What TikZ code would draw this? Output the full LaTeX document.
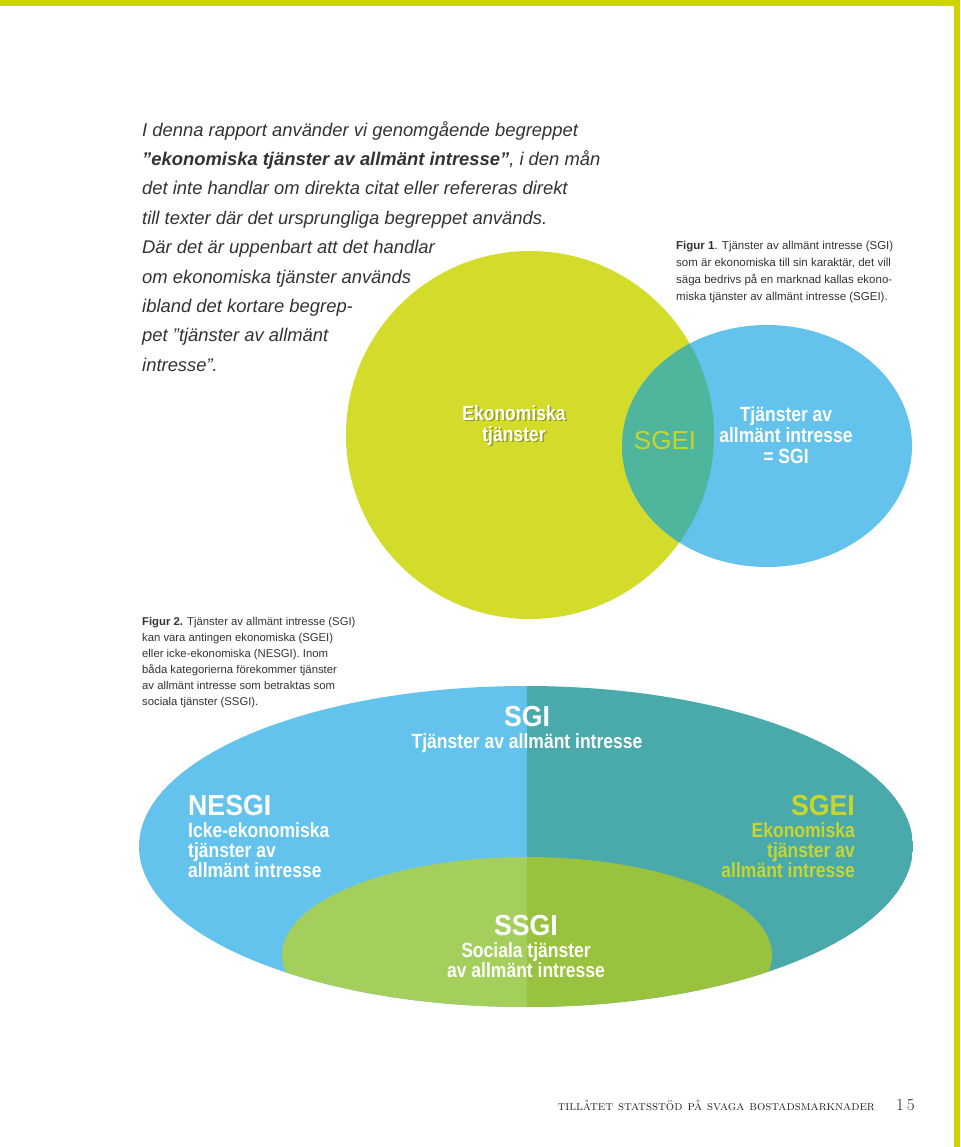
\documentclass[tikz,border=0pt]{standalone}
\usepackage{fontspec}
\newfontfamily\introfont{Liberation Sans}
\newfontfamily\labelfont[FakeStretch=0.85]{Liberation Sans}
\newfontfamily\titlefont[FakeStretch=0.92]{Liberation Sans}
\usetikzlibrary{positioning}

\definecolor{pagegreen}{RGB}{205, 212, 0}
\definecolor{vennyellow}{RGB}{211, 220, 42}
\definecolor{vennblue}{RGB}{99, 195, 236}
\definecolor{lensteal}{RGB}{79, 181, 156}
\definecolor{sgeiteal}{RGB}{74, 170, 171}
\definecolor{ssgilight}{RGB}{164, 207, 92}
\definecolor{ssgidark}{RGB}{153, 195, 62}
\definecolor{sgeitext}{RGB}{200, 214, 44}

\tikzset{
  introtext/.style={anchor=north west, inner sep=0, align=left, text=black!80,
    font=\introfont\fontsize{18.4}{29.4}\selectfont\itshape},
  captiontext/.style={anchor=north west, inner sep=0, align=left, text=black!80,
    font=\introfont\fontsize{11.5}{17}\selectfont},
  venntext/.style={inner sep=0, align=center, text=white,
    font=\labelfont\bfseries\fontsize{20.6}{21}\selectfont},
  titletext/.style={inner sep=0, text=white,
    font=\titlefont\bfseries\fontsize{29}{29}\selectfont},
  subtext/.style={inner sep=0, text=white,
    font=\labelfont\bfseries\fontsize{20.6}{19.7}\selectfont},
}

\begin{document}
\begin{tikzpicture}[x=1pt, y=-1pt]
  \useasboundingbox (0,0) rectangle (960,1147);
  \fill[white] (0,0) rectangle (960,1147);
  % page frame
  \fill[pagegreen] (0,0) rectangle (960,6);
  \fill[pagegreen] (954,0) rectangle (960,1147);

  % Figur 1: Venn
  \fill[vennyellow] (530,435) circle [radius=184];
  \fill[vennblue] (767,446) ellipse [x radius=145, y radius=121];
  \begin{scope}
    \clip (530,435) circle [radius=184];
    \fill[lensteal] (767,446) ellipse [x radius=145, y radius=121];
  \end{scope}

  % Figur 2: SGI ellipse
  \begin{scope}
    \clip (526,846.5) ellipse [x radius=387, y radius=160.5];
    \fill[vennblue] (139,686) rectangle (526.5,1007);
    \fill[sgeiteal] (526.5,686) rectangle (913,1007);
    \begin{scope}
      \clip (527,955) ellipse [x radius=245, y radius=98];
      \fill[ssgilight] (282,857) rectangle (526.5,1053);
      \fill[ssgidark] (526.5,857) rectangle (772,1053);
    \end{scope}
  \end{scope}

  \node (intro) [introtext] at (142,121) {I denna rapport använder vi genomgående begreppet\\
    {\bfseries ”ekonomiska tjänster av allmänt intresse”}, i den mån\\
    det inte handlar om direkta citat eller refereras direkt\\
    till texter där det ursprungliga begreppet används.\\
    Där det är uppenbart att det handlar\\
    om ekonomiska tjänster används\\
    ibland det kortare begrep-\\
    pet ”tjänster av allmänt\\
    intresse”.};

  \node (figone) [captiontext] at (676,240.5) {{\bfseries Figur 1}. Tjänster av allmänt intresse (SGI)\\
    som är ekonomiska till sin karaktär, det vill\\
    säga bedrivs på en marknad kallas ekono-\\
    miska tjänster av allmänt intresse (SGEI).};

  \node (figtwo) [captiontext, font=\introfont\fontsize{11.3}{16}\selectfont] at (142,617.5) {{\bfseries Figur 2.} Tjänster av allmänt intresse (SGI)\\
    kan vara antingen ekonomiska (SGEI)\\
    eller icke-ekonomiska (NESGI). Inom\\
    båda kategorierna förekommer tjänster\\
    av allmänt intresse som betraktas som\\
    sociala tjänster (SSGI).};

  % Venn labels
  \node (ekoshadow) [venntext, anchor=north, text=black, text opacity=0.3] at (515.5,406.5) {Ekonomiska\\tjänster};
  \node (eko) [venntext, anchor=north] at (514,405) {Ekonomiska\\tjänster};
  \node (lenssgei) [inner sep=0, text=sgeitext, font=\introfont\fontsize{26}{26}\selectfont] at (665,441) {SGEI};
  \node (sgilabel) [venntext, anchor=north] at (786,406) {Tjänster av\\allmänt intresse\\= SGI};

  % ellipse labels
  \node (sgititle) [titletext] at (527,717) {SGI};
  \node (sgisub) [subtext, below=6pt of sgititle] {Tjänster av allmänt intresse};
  \node (nesgititle) [titletext, anchor=west] at (188,806) {NESGI};
  \node (nesgisub) [subtext, align=left, below right=6pt and 0pt of nesgititle.south west] {Icke-ekonomiska\\tjänster av\\allmänt intresse};
  \node (sgeititle) [titletext, text=sgeitext, anchor=east] at (855,806) {SGEI};
  \node (sgeisub) [subtext, text=sgeitext, align=right, below left=6pt and 0pt of sgeititle.south east] {Ekonomiska\\tjänster av\\allmänt intresse};
  \node (ssgititle) [titletext] at (526,926) {SSGI};
  \node (ssgisub) [subtext, align=center, below=6pt of ssgititle] {Sociala tjänster\\av allmänt intresse};

  % running foot
  \node (foot) [anchor=base east, inner sep=0, text=black!85, font=\fontsize{13.2}{13.2}\selectfont] at (875,1110) {\textsc{tillåtet statsstöd på svaga bostadsmarknader}};
  \node (pageno) [anchor=base west, inner sep=0, text=black!85, font=\fontsize{17}{17}\selectfont] at (896,1110) {1\,5};
\end{tikzpicture}
\end{document}
